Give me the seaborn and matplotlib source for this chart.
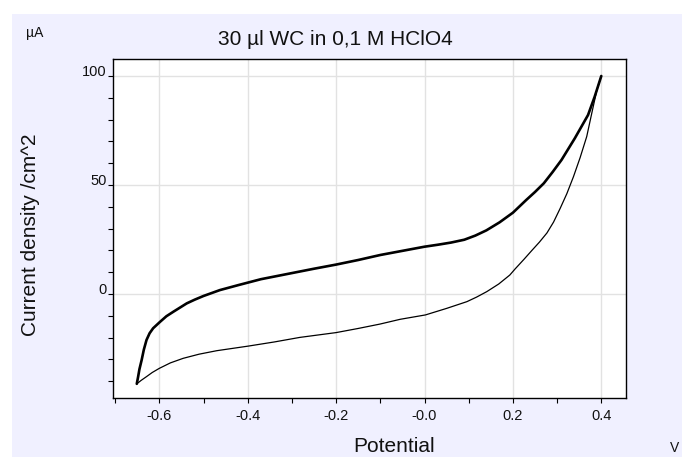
import numpy as np
import pandas as pd
import matplotlib
matplotlib.use("Agg")
import matplotlib.pyplot as plt
from matplotlib.patches import Rectangle
from matplotlib.ticker import FixedLocator, FixedFormatter, MultipleLocator
import seaborn as sns

# Cyclic voltammogram: forward (anodic) sweep and return sweep
forward_potential = [-0.651, -0.648, -0.645, -0.640, -0.635, -0.629, -0.622, -0.614,
                     -0.598, -0.584, -0.568, -0.553, -0.538, -0.520, -0.500, -0.463,
                     -0.421, -0.370, -0.300, -0.250, -0.200, -0.150, -0.100, -0.050,
                     0.000, 0.030, 0.060, 0.090, 0.115, 0.140, 0.170, 0.200, 0.230,
                     0.250, 0.270, 0.290, 0.310, 0.340, 0.370, 0.385, 0.400]
forward_current = [-41.2, -38.0, -34.5, -30.3, -25.5, -21.1, -18.0, -15.7,
                   -12.7, -10.2, -8.1, -6.2, -4.3, -2.6, -0.9, 1.8,
                   4.1, 6.8, 9.6, 11.6, 13.5, 15.6, 17.9, 19.8,
                   21.7, 22.6, 23.6, 24.9, 26.8, 29.2, 32.9, 37.3, 43.1,
                   46.8, 50.8, 56.0, 61.5, 71.4, 82.1, 90.5, 100.0]

reverse_potential = [0.400, 0.390, 0.378, 0.367, 0.352, 0.337, 0.322, 0.307, 0.292,
                     0.277, 0.260, 0.243, 0.225, 0.205, 0.193, 0.168, 0.141, 0.118,
                     0.096, 0.050, 0.002, -0.055, -0.101, -0.150, -0.200, -0.282,
                     -0.340, -0.399, -0.470, -0.510, -0.546, -0.575, -0.600, -0.616,
                     -0.629, -0.641, -0.651]
reverse_current = [100.0, 93.6, 82.5, 72.2, 62.5, 53.8, 46.0, 39.3, 33.0,
                   28.0, 23.8, 20.0, 15.9, 11.5, 8.7, 4.6, 1.1, -1.4,
                   -3.5, -6.6, -9.6, -11.6, -13.8, -15.8, -17.7, -19.9,
                   -22.0, -23.9, -26.0, -27.6, -29.5, -31.6, -34.1, -36.0,
                   -37.9, -39.6, -41.2]

x_ticks = [-0.6, -0.4, -0.2, 0.0, 0.2, 0.4]
x_tick_labels = ["-0.6", "-0.4", "-0.2", "-0.0", "0.2", "0.4"]
y_ticks = [0, 50, 100]
y_tick_labels = ["0", "50", "100"]

title_text = "30 µl WC in 0,1 M HClO4"
x_label = "Potential"
y_label = "Current density /cm^2"
x_unit = "V"
y_unit = "µA"

sns.set_style("white")
plt.rcParams["font.family"] = ["Liberation Sans", "DejaVu Sans"]

W, H = 682, 457
fig = plt.figure(figsize=(W / 100, H / 100), dpi=100, facecolor="white")

# lavender panel behind the plot, leaving a thin white margin at top and left
fig.patches.append(Rectangle((12 / W, 0), 1 - 12 / W, 1 - 14 / H,
                             transform=fig.transFigure, facecolor="#F0F0FF",
                             edgecolor="none", zorder=-10))

ax = fig.add_axes([113 / W, 1 - 398 / H, (626 - 113) / W, (398 - 59) / H])
ax.set_facecolor("white")

fwd = pd.DataFrame({"E": forward_potential, "j": forward_current})
rev = pd.DataFrame({"E": reverse_potential, "j": reverse_current})
sns.lineplot(data=fwd, x="E", y="j", sort=False, estimator=None, ax=ax,
             color="black", linewidth=1.9, zorder=3)
sns.lineplot(data=rev, x="E", y="j", sort=False, estimator=None, ax=ax,
             color="black", linewidth=0.9, zorder=3)

ax.set_xlim(-0.7048, 0.4559)
ax.set_ylim(-47.7, 107.8)

ax.xaxis.set_major_locator(FixedLocator(x_ticks))
ax.xaxis.set_major_formatter(FixedFormatter(x_tick_labels))
ax.xaxis.set_minor_locator(MultipleLocator(0.1))
ax.yaxis.set_major_locator(FixedLocator(y_ticks))
ax.yaxis.set_major_formatter(FixedFormatter(y_tick_labels))
ax.yaxis.set_minor_locator(MultipleLocator(10))

ax.tick_params(axis="both", which="both", direction="out", length=3.8,
               width=0.8, color="black", bottom=True, left=True)
ax.tick_params(axis="x", which="major", labelsize=10.5, pad=4.0, labelcolor="#111111")
ax.tick_params(axis="y", which="major", labelsize=10.5, pad=0.8, labelcolor="#111111")
for lbl in ax.get_yticklabels():
    lbl.set_verticalalignment("baseline")

ax.grid(True, which="major", color="#E2E2E2", linewidth=1.0)
ax.set_axisbelow(True)
for sp in ax.spines.values():
    sp.set_visible(True)
    sp.set_color("black")
    sp.set_linewidth(1.0)

ax.set_xlabel("")
ax.set_ylabel("")

fig.text(335 / W, 1 - 45 / H, title_text, ha="center", va="baseline",
         fontsize=15, color="#111111")
fig.text(394 / W, 1 - 452 / H, x_label, ha="center", va="baseline",
         fontsize=15, color="#111111")
fig.text(31 / W, 1 - 235 / H, y_label, ha="center", va="center",
         rotation=90, fontsize=15, color="#111111")
fig.text(26 / W, 1 - 37 / H, y_unit, ha="left", va="baseline",
         fontsize=10, color="#111111")
fig.text(670 / W, 1 - 452 / H, x_unit, ha="left", va="baseline",
         fontsize=10, color="#111111")

fig.savefig("out.png", dpi=100, facecolor=fig.get_facecolor())
